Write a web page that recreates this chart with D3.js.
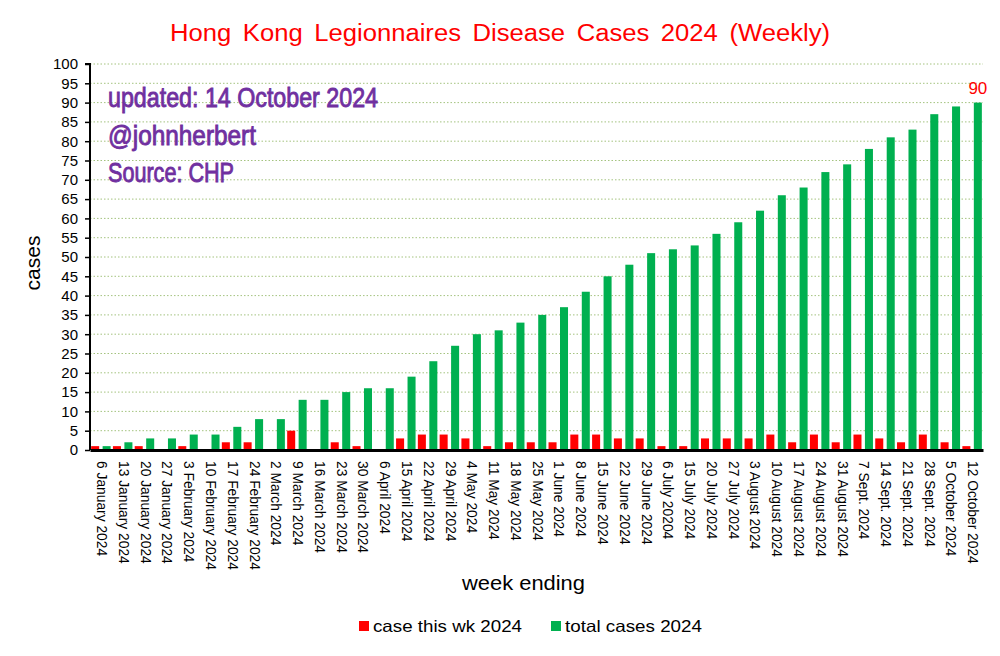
<!DOCTYPE html>
<html><head><meta charset="utf-8">
<script src="https://cdn.jsdelivr.net/npm/d3@7"></script>
<style>body{margin:0;background:#fff}svg{display:block}text{font-family:Arial,"Liberation Sans",sans-serif}</style>
</head><body><svg id="c" width="1000" height="656"></svg>
<script>
const weeks = ["6 January 2024","13 January 2024","20 January 2024","27 January 2024","3 February 2024","10 February 2024","17 February 2024","24 February 2024","2 March 2024","9 March 2024","16 March 2024","23 March 2024","30 March 2024","6 April 2024","15 April 2024","22 April 2024","29 April 2024","4 May 2024","11 May 2024","18 May 2024","25 May 2024","1 June 2024","8 June 2024","15 June 2024","22 June 2024","29 June 2024","6 July 20204","15 July 2024","20 July 2024","27 July 2024","3 August 2024","10 August 2024","17 August 2024","24 August 2024","31 August 2024","7 Sept. 2024","14 Sept. 2024","21 Sept. 2024","28 Sept. 2024","5 October 2024","12 October 2024"];
const weekly = [1,1,1,0,1,0,2,2,0,5,0,2,1,0,3,4,4,3,1,2,2,2,4,4,3,3,1,1,3,3,3,4,2,4,2,4,3,2,4,2,1];
const total = [1,2,3,3,4,4,6,8,8,13,13,15,16,16,19,23,27,30,31,33,35,37,41,45,48,51,52,53,56,59,62,66,68,72,74,78,81,83,87,89,90];
const yTicks = d3.range(0,101,5);
const seriesNames = ["case this wk 2024","total cases 2024"];
const colors = ["#ff0000","#00b050"];
const titleText = "Hong Kong Legionnaires Disease Cases 2024 (Weekly)";
const notes = ["updated: 14 October 2024","@johnherbert","Source: CHP"];

const svg = d3.select("#c");
const L=90, R=983, T=64, B=450;
const x = d3.scaleBand().domain(weeks).range([L,R]).padding(0);
const x1 = d3.scaleBand().domain([0,1]).range([0,x.bandwidth()]).paddingInner(0.3).paddingOuter(0.1);
const y = d3.scaleLinear().domain([0,100]).range([B,T]);

// gridlines
svg.append("g").selectAll("line").data(yTicks.filter(d=>d>0)).join("line")
  .attr("x1",L).attr("x2",R).attr("y1",d=>y(d)).attr("y2",d=>y(d))
  .attr("stroke","#a4c37f").attr("stroke-width",1).attr("stroke-dasharray","1.5,2");

// title
svg.append("text").attr("x",170).attr("y",41)
  .attr("fill","#ff0000").attr("font-size",23).attr("word-spacing",4)
  .attr("textLength",660).attr("lengthAdjust","spacingAndGlyphs").text(titleText);

// notes
const noteLen = {"updated: 14 October 2024":270,"@johnherbert":148,"Source: CHP":126};
svg.append("g").selectAll("text").data(notes).join("text")
  .attr("x",108).attr("y",(d,i)=>107+i*37.5)
  .attr("fill","#7030a0").attr("stroke","#7030a0").attr("stroke-width",0.9)
  .attr("font-size",28)
  .attr("font-family","'DejaVu Sans Condensed','DejaVu Sans',sans-serif")
  .attr("textLength",d=>noteLen[d])
  .attr("lengthAdjust","spacingAndGlyphs")
  .text(d=>d);

// bars
const g = svg.append("g");
weeks.forEach((w,i)=>{
  [weekly[i], total[i]].forEach((v,j)=>{
    g.append("rect").attr("x",x(w)+x1(j)).attr("width",x1.bandwidth())
      .attr("y",y(v)).attr("height",B-y(v)).attr("fill",colors[j]);
  });
});

// last value label
svg.append("text").attr("x",x(weeks[weeks.length-1])+x1(1)+x1.bandwidth()/2).attr("y",y(total[total.length-1])-9)
  .attr("text-anchor","middle").attr("fill","#ff0000").attr("font-size",17).text(total[total.length-1]);

// y axis
const ya = svg.append("g").attr("transform",`translate(${L},0)`)
  .call(d3.axisLeft(y).tickValues(yTicks).tickSize(5).tickPadding(7));
ya.select(".domain").attr("stroke","#000").attr("stroke-width",2).attr("d",`M-5,${T}H0V${B}`);
ya.selectAll(".tick line").attr("stroke","#000").attr("stroke-width",1.5);
ya.selectAll(".tick text").attr("font-size",15).attr("fill","#000").attr("font-family","Arial,'Liberation Sans',sans-serif");

// x axis
const xa = svg.append("g").attr("transform",`translate(0,${B})`)
  .call(d3.axisBottom(x).tickSize(0).tickPadding(0));
xa.select(".domain").attr("stroke","#000").attr("stroke-width",3);
xa.selectAll(".tick text").attr("font-size",13.8).attr("fill","#000")
  .attr("font-family","Arial,'Liberation Sans',sans-serif")
  .attr("transform","rotate(90)").attr("text-anchor","start")
  .attr("x",11).attr("y",-1).attr("dy","0.35em");

// axis titles
svg.append("text").attr("transform","translate(40,263) rotate(-90)").attr("text-anchor","middle")
  .attr("font-size",21).attr("fill","#000").text("cases");
svg.append("text").attr("x",462).attr("y",590)
  .attr("font-size",20.5).attr("fill","#000")
  .attr("textLength",123).attr("lengthAdjust","spacingAndGlyphs").text("week ending");

// legend
const lg = svg.append("g");
const lx = [359, 551];
const legLen = [149, 137];
seriesNames.forEach((n,i)=>{
  lg.append("rect").attr("x",lx[i]).attr("y",621).attr("width",10).attr("height",10).attr("fill",colors[i]);
  lg.append("text").attr("x",lx[i]+14).attr("y",632).attr("font-size",16.5).attr("fill","#000")
    .attr("textLength",legLen[i]).attr("lengthAdjust","spacingAndGlyphs").text(n);
});
</script></body></html>
